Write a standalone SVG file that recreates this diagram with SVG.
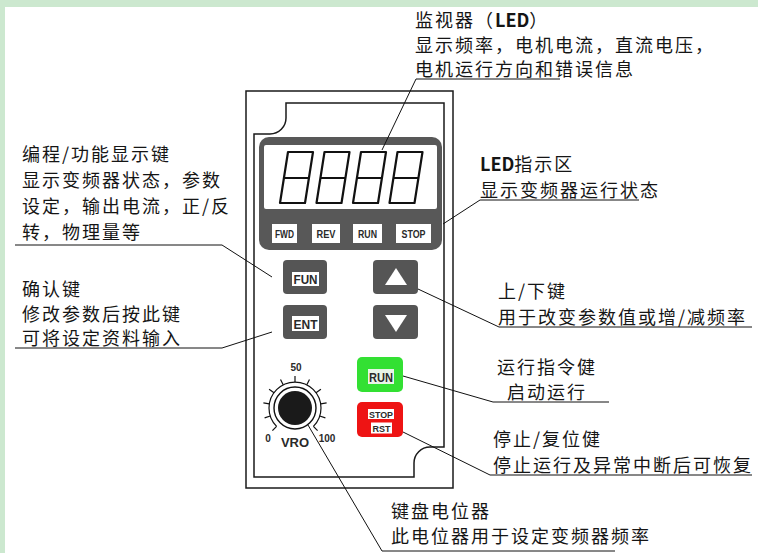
<svg xmlns="http://www.w3.org/2000/svg" width="758" height="553" viewBox="0 0 758 553">
  <defs>
    <style>
      .cn { font-family: "Noto Sans CJK SC", "Noto Sans", sans-serif; font-size: 18px; letter-spacing: 2px; fill: #151515; }
      .latin { font-weight: bold; letter-spacing: 0px; }
      .lead { stroke: #111; stroke-width: 1; fill: none; }
      .panel { stroke: #1a1a1a; stroke-width: 1.5; fill: none; }
      .seg { stroke: #111; stroke-width: 2.2; fill: none; stroke-linejoin: round; }
      .key { fill: #555555; }
      .tag { fill: #ffffff; }
      .lbl { font-family: "Liberation Sans", Arial, sans-serif; font-weight: bold; fill: #2a2a2a; text-anchor: middle; }
      .tick { stroke: #111; stroke-width: 1.2; }
    </style>
  </defs>

  <!-- page background with tinted edge -->
  <rect x="0" y="0" width="758" height="553" fill="#ffffff"/>
  <rect x="0" y="0" width="758" height="7" fill="#cce8cf"/>
  <rect x="0" y="0" width="5" height="553" fill="#cce8cf"/>

  <!-- keypad housing -->
  <g id="housing">
    <rect class="panel" x="246" y="91" width="207" height="397"/>
    <path class="panel" d="M444 103 L286 103 L286 118 A16 16 0 0 1 270 134 L254 134 L254 477 L414 477 L414 463 A16 16 0 0 1 430 447 L444 447 Z"/>
  </g>

  <!-- LED display -->
  <g id="display">
    <rect x="259" y="137" width="183" height="113" rx="10" fill="#585858"/>
    <rect x="264" y="145" width="173" height="64" rx="2" fill="#ffffff"/>
    <g id="digits">
      <path class="seg" d="M288 152 L313 152 L305 203 L280 203 Z M284 178 L309 178"/>
      <path class="seg" d="M324.5 152 L349.5 152 L341.5 203 L316.5 203 Z M320.5 178 L345.5 178"/>
      <path class="seg" d="M361 152 L386 152 L378 203 L353 203 Z M357 178 L382 178"/>
      <path class="seg" d="M397.5 152 L422.5 152 L414.5 203 L389.5 203 Z M393.5 178 L418.5 178"/>
    </g>
    <g id="indicators">
      <rect class="tag" x="272" y="224" width="25" height="19"/>
      <text class="lbl" x="284.5" y="237.5" font-size="10" textLength="19" lengthAdjust="spacingAndGlyphs">FWD</text>
      <rect class="tag" x="312" y="224" width="28" height="19"/>
      <text class="lbl" x="326" y="237.5" font-size="10" textLength="19" lengthAdjust="spacingAndGlyphs">REV</text>
      <rect class="tag" x="353" y="224" width="29" height="19"/>
      <text class="lbl" x="367.5" y="237.5" font-size="10" textLength="19" lengthAdjust="spacingAndGlyphs">RUN</text>
      <rect class="tag" x="396" y="224" width="35" height="19"/>
      <text class="lbl" x="413.5" y="237.5" font-size="10" textLength="24" lengthAdjust="spacingAndGlyphs">STOP</text>
    </g>
  </g>

  <!-- keys -->
  <g id="key-fun">
    <rect class="key" x="283" y="260" width="44" height="34" rx="4"/>
    <rect class="tag" x="292" y="272" width="27" height="14"/>
    <text class="lbl" x="305.5" y="284" font-size="13" textLength="24" lengthAdjust="spacingAndGlyphs">FUN</text>
  </g>
  <g id="key-ent">
    <rect class="key" x="283" y="305" width="44" height="34" rx="4"/>
    <rect class="tag" x="292" y="316" width="27" height="15"/>
    <text class="lbl" x="305.5" y="329" font-size="13" textLength="24" lengthAdjust="spacingAndGlyphs">ENT</text>
  </g>
  <g id="key-up">
    <rect class="key" x="373" y="260" width="45" height="34" rx="4"/>
    <polygon points="396,268 407,285 385,285" fill="#ffffff"/>
  </g>
  <g id="key-down">
    <rect class="key" x="373" y="305" width="45" height="34" rx="4"/>
    <polygon points="385,315 407,315 396,332" fill="#ffffff"/>
  </g>
  <g id="key-run">
    <rect x="357" y="357" width="46" height="35" rx="5" fill="#33e033"/>
    <rect x="368" y="369" width="26" height="15" fill="#e8f4e8"/>
    <text class="lbl" x="381" y="382" font-size="13" textLength="24" lengthAdjust="spacingAndGlyphs">RUN</text>
  </g>
  <g id="key-stop">
    <rect x="357" y="402" width="46" height="35" rx="5" fill="#ee1414"/>
    <rect x="368" y="409" width="26" height="10" fill="#ffffff"/>
    <text class="lbl" x="381" y="417.5" font-size="9.5" textLength="24" lengthAdjust="spacingAndGlyphs">STOP</text>
    <rect x="371" y="422.5" width="21" height="11" fill="#ffffff"/>
    <text class="lbl" x="381.5" y="432" font-size="9.5" textLength="18" lengthAdjust="spacingAndGlyphs">RST</text>
  </g>

  <!-- potentiometer -->
  <g id="knob">
    <path d="M276.6 426.4 A26 26 0 1 1 313.4 426.4" fill="none" stroke="#111" stroke-width="1.2"/>
    <g class="tick">
      <line x1="276.6" y1="426.4" x2="272.4" y2="430.6"/>
      <line x1="270.3" y1="416.0" x2="264.6" y2="417.9"/>
      <line x1="269.3" y1="403.9" x2="263.4" y2="402.9"/>
      <line x1="274.0" y1="392.7" x2="269.1" y2="389.2"/>
      <line x1="283.2" y1="384.8" x2="280.5" y2="379.5"/>
      <line x1="295" y1="382" x2="295" y2="376"/>
      <line x1="306.8" y1="384.8" x2="309.5" y2="379.5"/>
      <line x1="316.0" y1="392.7" x2="320.9" y2="389.2"/>
      <line x1="320.7" y1="403.9" x2="326.6" y2="402.9"/>
      <line x1="319.7" y1="416.0" x2="325.4" y2="417.9"/>
      <line x1="313.4" y1="426.4" x2="317.6" y2="430.6"/>
    </g>
    <circle cx="295" cy="408" r="21" fill="none" stroke="#111" stroke-width="1.4"/>
    <circle cx="295" cy="408" r="17" fill="#1a1a1a"/>
    <text class="lbl" x="296" y="371" font-size="10" font-weight="normal">50</text>
    <text class="lbl" x="268" y="442" font-size="10" font-weight="normal">0</text>
    <text class="lbl" x="327" y="442" font-size="10" font-weight="normal">100</text>
    <text class="lbl" x="295" y="447" font-size="13">VRO</text>
  </g>

  <!-- callout texts -->
  <g id="note-led">
    <text class="cn" x="415" y="27">监视器（<tspan class="latin">LED</tspan>）</text>
    <text class="cn" x="415" y="52">显示频率，电机电流，直流电压，</text>
    <text class="cn" x="415" y="76">电机运行方向和错误信息</text>
  </g>
  <g id="note-indicator">
    <text class="cn" x="480" y="171"><tspan class="latin">LED</tspan>指示区</text>
    <text class="cn" x="480" y="197">显示变频器运行状态</text>
  </g>
  <g id="note-fun">
    <text class="cn" x="22" y="161">编程/功能显示键</text>
    <text class="cn" x="22" y="187">显示变频器状态，参数</text>
    <text class="cn" x="22" y="213">设定，输出电流，正/反</text>
    <text class="cn" x="22" y="239">转，物理量等</text>
  </g>
  <g id="note-ent">
    <text class="cn" x="22" y="296">确认键</text>
    <text class="cn" x="22" y="321">修改参数后按此键</text>
    <text class="cn" x="22" y="345">可将设定资料输入</text>
  </g>
  <g id="note-updown">
    <text class="cn" x="498" y="298">上/下键</text>
    <text class="cn" x="498" y="324">用于改变参数值或增/减频率</text>
  </g>
  <g id="note-run">
    <text class="cn" x="497" y="374">运行指令健</text>
    <text class="cn" x="507" y="399">启动运行</text>
  </g>
  <g id="note-stop">
    <text class="cn" x="493" y="446">停止/复位健</text>
    <text class="cn" x="493" y="472">停止运行及异常中断后可恢复</text>
  </g>
  <g id="note-pot">
    <text class="cn" x="391" y="518">键盘电位器</text>
    <text class="cn" x="391" y="543">此电位器用于设定变频器频率</text>
  </g>

  <!-- leader lines -->
  <g id="connectors" class="lead">
    <polyline points="560,79 416,79 382,150"/>
    <polyline points="639,200 480,200 443,224"/>
    <polyline points="15,245 222,245 272,277"/>
    <polyline points="15,348 222,348 272,332"/>
    <polyline points="752,327 499,327 418,289"/>
    <polyline points="609,402 493,402 403,376"/>
    <polyline points="752,475 490,475 403,432"/>
    <polyline points="615,551 382,551 308,425"/>
  </g>
</svg>
